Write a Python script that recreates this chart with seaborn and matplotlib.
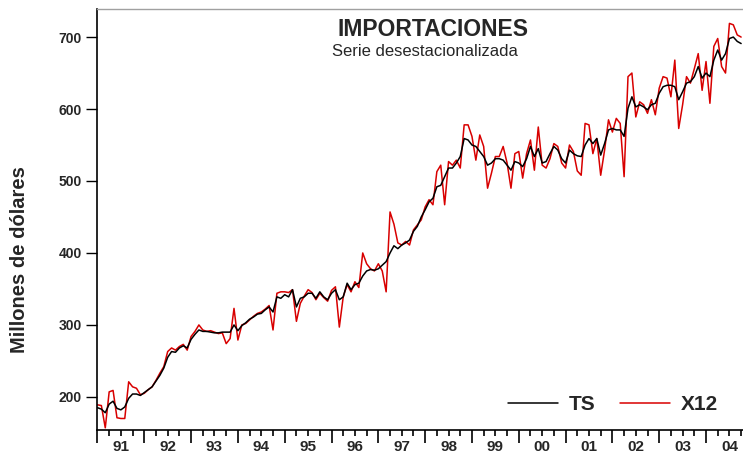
import numpy as np
import pandas as pd
import matplotlib
matplotlib.use("Agg")
import matplotlib.pyplot as plt
import seaborn as sns
from matplotlib.lines import Line2D


# Monthly data, Jan 1991 onwards (millones de dolares)
start_year = 1991
ts_values = [
    185, 183, 178, 190, 194, 184, 182, 186, 198, 204, 204, 202,   # 1991
    206, 210, 214, 222, 230, 240, 255, 263, 262, 268, 271, 268,   # 1992
    280, 287, 293, 291, 291, 290, 289, 289, 290, 290, 290, 300,   # 1993
    292, 299, 303, 308, 311, 315, 316, 321, 325, 318, 339, 337,   # 1994
    342, 339, 349, 325, 337, 339, 344, 344, 337, 346, 339, 335,   # 1995
    344, 349, 335, 339, 358, 349, 356, 358, 368, 375, 377, 376,   # 1996
    378, 383, 388, 400, 410, 406, 411, 414, 418, 430, 437, 450,   # 1997
    460, 471, 476, 492, 494, 506, 518, 518, 525, 534, 559, 557,   # 1998
    550, 548, 541, 534, 522, 525, 531, 531, 529, 522, 515, 527,   # 1999
    525, 520, 531, 548, 534, 545, 525, 527, 538, 548, 543, 531,   # 2000
    525, 543, 538, 535, 534, 550, 559, 552, 559, 536, 552, 571,   # 2001
    573, 571, 571, 562, 601, 617, 603, 606, 603, 599, 606, 608,   # 2002
    622, 631, 633, 633, 631, 613, 624, 636, 638, 645, 659, 643,   # 2003
    650, 645, 668, 682, 668, 677, 698, 700, 694, 691,             # 2004
]
x12_values = [
    189, 188, 157, 207, 209, 171, 170, 170, 221, 214, 212, 203,
    205, 210, 214, 223, 233, 242, 263, 268, 265, 270, 273, 265,
    284, 291, 300, 293, 291, 292, 290, 288, 289, 274, 281, 323,
    279, 300, 302, 307, 312, 316, 318, 322, 327, 293, 344, 346,
    346, 345, 349, 305, 330, 340, 349, 345, 335, 344, 338, 333,
    348, 353, 297, 339, 356, 346, 360, 352, 400, 385, 378, 375,
    385, 375, 346, 457, 440, 414, 411, 416, 411, 432, 439, 446,
    464, 474, 467, 513, 522, 467, 527, 522, 529, 518, 578, 578,
    562, 529, 564, 548, 490, 511, 534, 534, 548, 525, 490, 538,
    541, 504, 538, 557, 515, 575, 522, 518, 531, 552, 548, 525,
    518, 550, 541, 514, 508, 580, 578, 538, 559, 508, 543, 585,
    568, 587, 580, 506, 645, 650, 589, 610, 606, 594, 613, 592,
    629, 645, 643, 617, 668, 573, 606, 645, 636, 656, 677, 626,
    666, 608, 687, 698, 659, 650, 719, 717, 703, 700,
]
year_labels = ["91", "92", "93", "94", "95", "96", "97",
               "98", "99", "00", "01", "02", "03", "04"]
y_ticks = [200, 300, 400, 500, 600, 700]

# Build data frame with fractional year as x
n = len(ts_values)
df = pd.DataFrame({
    "t": start_year + np.arange(n) / 12,
    "TS": ts_values,
    "X12": x12_values,
})

sns.set_style("ticks")
plt.rcParams["font.family"] = ["Liberation Sans", "DejaVu Sans"]

fig = plt.figure(figsize=(7.43, 4.57), dpi=100)
ax = fig.add_axes([97 / 743, 1 - 430 / 457, 646 / 743, 421 / 457])

sns.lineplot(data=df, x="t", y="X12", ax=ax, color="#d80000", linewidth=1.1)
sns.lineplot(data=df, x="t", y="TS", ax=ax, color="black", linewidth=1.1)

ax.set_xlim(1991 - 0.01, 2004.79)
ax.set_ylim(154, 739)

# x axis: years as major ticks, quarters as minor ticks with labels mid-year
years = np.arange(1991, 2005)
ax.set_xticks(years, labels=[""] * len(years))
quarters = np.arange(1991, 2005, 0.25)
q_labels = [year_labels[int(q) - 1991] if abs(q % 1 - 0.5) < 1e-6 else "" for q in quarters]
ax.set_xticks(quarters, labels=q_labels, minor=True)
ax.tick_params(axis="x", which="major", length=9, width=1.2, color="black", direction="out")
ax.tick_params(axis="x", which="minor", length=4, width=1.2, color="black",
               direction="out", pad=3, labelsize=11)
for lab in ax.get_xticklabels(minor=True):
    lab.set_fontweight("bold")

ax.set_yticks(y_ticks)
ax.tick_params(axis="y", length=8, width=1.0, color="black", pad=3, labelsize=10)
for lab in ax.get_yticklabels():
    lab.set_fontweight("bold")

ax.set_xlabel("")
ax.set_ylabel("Millones de dólares", fontsize=14.5, fontweight="bold",
              family=["Liberation Sans Narrow", "Liberation Sans"])
ax.yaxis.set_label_coords(-0.106, 0.404)

for side in ["left", "bottom"]:
    ax.spines[side].set_linewidth(1.2)
    ax.spines[side].set_color("black")
ax.spines["right"].set_visible(False)
ax.spines["top"].set_color("#a0a0a0")
ax.spines["top"].set_linewidth(1.0)

fig.text(433 / 743, 1 - 30 / 457, "IMPORTACIONES", ha="center", va="center",
         fontsize=16.5, fontweight="bold")
fig.text(425 / 743, 1 - 52 / 457, "Serie desestacionalizada", ha="center",
         va="center", fontsize=12)

handles = [Line2D([], [], color="black", linewidth=1.1),
           Line2D([], [], color="#d80000", linewidth=1.1)]
ax.legend(handles, ["TS", "X12"], loc="center right", bbox_to_anchor=(0.99, 0.06),
          ncol=2, frameon=False, handlelength=2.4, handletextpad=0.5,
          columnspacing=1.2, prop={"weight": "bold", "size": 15})

fig.savefig("out.png", dpi=100)
